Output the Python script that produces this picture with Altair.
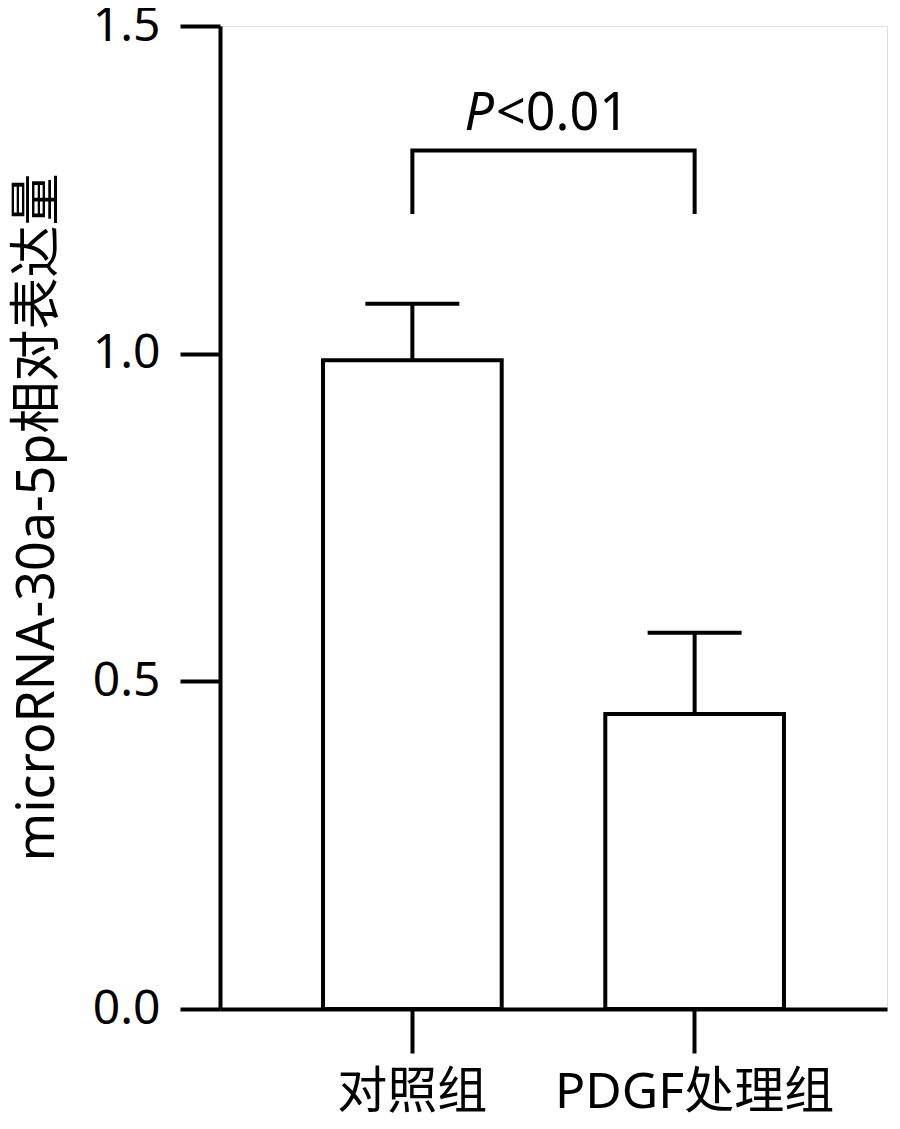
import altair as alt
import pandas as pd

categories = ["对照组", "PDGF处理组"]
means = [0.99, 0.45]
errors = [0.086, 0.124]

bracket_cat = ["对照组", "对照组", "PDGF处理组", "PDGF处理组"]
bracket_y = [1.216, 1.31, 1.31, 1.216]
bracket_order = [0, 1, 2, 3]

p_label_y = 1.341

FONT = "Noto Sans, Noto Sans CJK SC"

df = pd.DataFrame({"group": categories, "mean": means, "err": errors})
df["upper"] = df["mean"] + df["err"]
br = pd.DataFrame({"group": bracket_cat, "y": bracket_y, "o": bracket_order})
txt = pd.DataFrame({"y": [p_label_y]})

xscale = alt.Scale(domain=categories, paddingInner=0.367, paddingOuter=0.365)
yscale = alt.Scale(domain=[0, 1.5], nice=False, zero=True)

x_enc = alt.X("group:N", scale=xscale, sort=categories,
              axis=alt.Axis(title=None, labelAngle=0, labelFontSize=50, labelFont=FONT,
                            labelColor="black", tickSize=44, tickWidth=4, tickColor="black",
                            domainWidth=4, domainColor="black", labelPadding=14,
                            labelBaseline="top", labelLimit=500))
y_enc = alt.Y("mean:Q", scale=yscale,
              axis=alt.Axis(title="microRNA-30a-5p相对表达量", values=[0, 0.5, 1.0, 1.5],
                            format=".1f", labelFontSize=48, labelFont=FONT, labelColor="black",
                            tickSize=40, tickWidth=4, tickColor="black", domainWidth=4,
                            domainColor="black", labelPadding=20, grid=False,
                            titleFont=FONT, titleFontSize=52, titleFontWeight="normal",
                            titleColor="black", titleX=-183, titleY=491,
                            titleAngle=-90, titleAlign="center", titleBaseline="middle"))

bars = alt.Chart(df).mark_bar(fill="white", stroke="black", strokeWidth=4).encode(
    x=x_enc, y=y_enc)

err_rule = alt.Chart(df).mark_rule(color="black", strokeWidth=4).encode(
    x=alt.X("group:N", scale=xscale, sort=categories),
    y=alt.Y("mean:Q", scale=yscale),
    y2="upper:Q")

cap = alt.Chart(df).mark_tick(color="black", thickness=4, size=94, opacity=1).encode(
    x=alt.X("group:N", scale=xscale, sort=categories),
    y=alt.Y("upper:Q", scale=yscale))

bracket = alt.Chart(br).mark_line(color="black", strokeWidth=4, strokeCap="square").encode(
    x=alt.X("group:N", scale=xscale, sort=categories),
    y=alt.Y("y:Q", scale=yscale),
    order="o:Q")

p_text = alt.Chart(txt).mark_text(text="P", fontStyle="italic", font=FONT, fontSize=52,
                                  align="right", baseline="alphabetic", color="black").encode(
    x=alt.value(274), y=alt.Y("y:Q", scale=yscale))
rest_text = alt.Chart(txt).mark_text(text="<0.01", font=FONT, fontSize=52,
                                     align="left", baseline="alphabetic", color="black").encode(
    x=alt.value(276), y=alt.Y("y:Q", scale=yscale))

chart = alt.layer(bars, err_rule, cap, bracket, p_text, rest_text).properties(
    width=667, height=983,
    autosize=alt.AutoSizeParams(type="none"),
    padding={"left": 212, "top": 18, "right": 5, "bottom": 112},
).configure_view(stroke=None).configure(background="white")

chart.save("out.html", embed_options={"renderer": "svg", "actions": False})
